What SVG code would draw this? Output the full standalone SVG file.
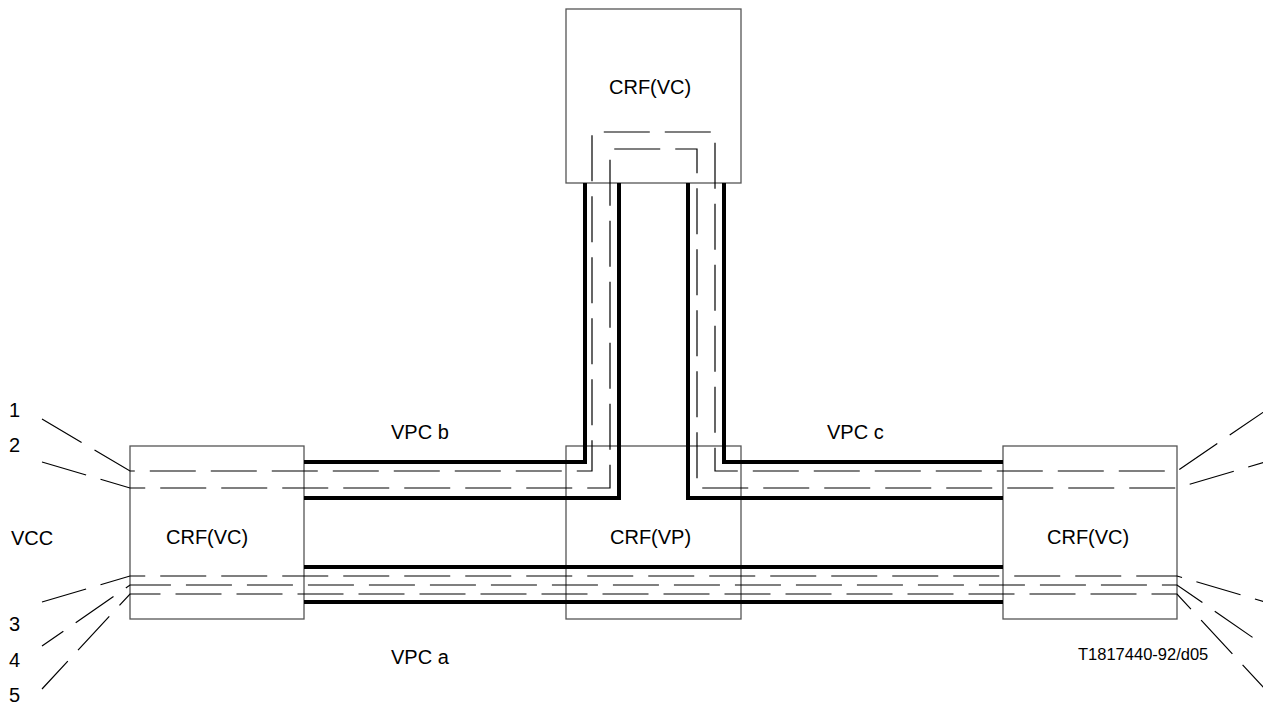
<svg xmlns="http://www.w3.org/2000/svg" width="1263" height="707" viewBox="0 0 1263 707">
<style>
.box{fill:#fff;stroke:#555;stroke-width:1.3}
.lbl{font-family:"Liberation Sans",Arial,sans-serif;font-size:20px;fill:#000}
.vpc{fill:none;stroke:#000;stroke-width:4;stroke-linejoin:miter}
.vcc{fill:none;stroke:#000;stroke-width:1.2;stroke-dasharray:46 15}
</style>
<rect width="1263" height="707" fill="#fff"/>
<g id="crf-top"><rect class="box" x="566" y="9" width="175" height="174"/><text class="lbl" x="609" y="94">CRF(VC)</text></g>
<g id="crf-left"><rect class="box" x="130" y="446" width="174" height="173"/><text class="lbl" x="166" y="544">CRF(VC)</text></g>
<g id="crf-mid"><rect class="box" x="566" y="446" width="175" height="173"/><text class="lbl" x="610" y="544">CRF(VP)</text></g>
<g id="crf-right"><rect class="box" x="1003" y="446" width="174" height="173"/><text class="lbl" x="1047" y="544">CRF(VC)</text></g>
<g id="connectors">
<path class="vpc" d="M304,462 L585,462 L585,183"/>
<path class="vpc" d="M304,498 L619,498 L619,183"/>
<path class="vpc" d="M724,183 L724,462 L1003,462"/>
<path class="vpc" d="M688,183 L688,498 L1003,498"/>
<path class="vpc" d="M304,567 L1003,567"/>
<path class="vpc" d="M304,602 L1003,602"/>
<path class="vcc" d="M42,419 L130,471 L592,471 L592,132 L715,132 L715,471 L1177,471 L1265,411"/>
<path class="vcc" d="M42,462 L130,488 L610,488 L610,149 L697,149 L697,488 L1177,488 L1265,462"/>
<path class="vcc" d="M42,602 L130,576 L1177,576 L1265,602"/>
<path class="vcc" d="M42,646 L130,585 L1177,585 L1265,646" stroke-dashoffset="20"/>
<path class="vcc" d="M42,689 L130,594 L1177,594 L1265,689" stroke-dashoffset="8"/>
</g>
<g id="labels">
<text class="lbl" x="9" y="417">1</text>
<text class="lbl" x="9" y="452">2</text>
<text class="lbl" x="11" y="545">VCC</text>
<text class="lbl" x="9" y="631">3</text>
<text class="lbl" x="9" y="667">4</text>
<text class="lbl" x="9" y="702">5</text>
<text class="lbl" x="391" y="439">VPC b</text>
<text class="lbl" x="827" y="439">VPC c</text>
<text class="lbl" x="391" y="664">VPC a</text>
<text class="lbl" x="1078" y="660" style="font-size:16.5px">T1817440-92/d05</text>
</g>
</svg>
